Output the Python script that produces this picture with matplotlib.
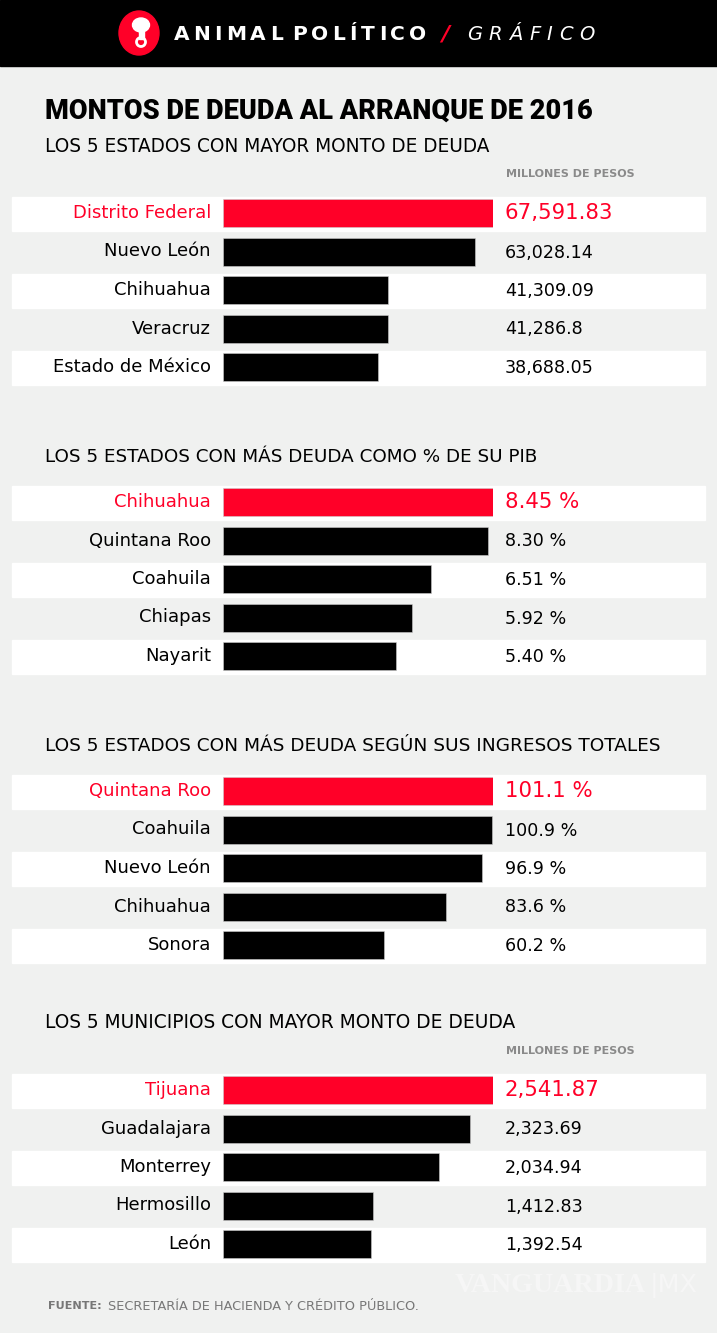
import matplotlib
matplotlib.use("Agg")
import matplotlib.pyplot as plt
from matplotlib.patches import Rectangle, Circle, Ellipse

# data
title = "MONTOS DE DEUDA AL ARRANQUE DE 2016"

s1_title = "LOS 5 ESTADOS CON MAYOR MONTO DE DEUDA"
s1_names = ["Distrito Federal", "Nuevo León", "Chihuahua", "Veracruz", "Estado de México"]
s1_values = [67591.83, 63028.14, 41309.09, 41286.8, 38688.05]
s1_labels = ["67,591.83", "63,028.14", "41,309.09", "41,286.8", "38,688.05"]

s2_title = "LOS 5 ESTADOS CON MÁS DEUDA COMO % DE SU PIB"
s2_names = ["Chihuahua", "Quintana Roo", "Coahuila", "Chiapas", "Nayarit"]
s2_values = [8.45, 8.30, 6.51, 5.92, 5.40]
s2_labels = ["8.45 %", "8.30 %", "6.51 %", "5.92 %", "5.40 %"]

s3_title = "LOS 5 ESTADOS CON MÁS DEUDA SEGÚN SUS INGRESOS TOTALES"
s3_names = ["Quintana Roo", "Coahuila", "Nuevo León", "Chihuahua", "Sonora"]
s3_values = [101.1, 100.9, 96.9, 83.6, 60.2]
s3_labels = ["101.1 %", "100.9 %", "96.9 %", "83.6 %", "60.2 %"]

s4_title = "LOS 5 MUNICIPIOS CON MAYOR MONTO DE DEUDA"
s4_names = ["Tijuana", "Guadalajara", "Monterrey", "Hermosillo", "León"]
s4_values = [2541.87, 2323.69, 2034.94, 1412.83, 1392.54]
s4_labels = ["2,541.87", "2,323.69", "2,034.94", "1,412.83", "1,392.54"]

RED = "#ff0028"
BG = "#f0f1f0"
GREY = "#8a8a8a"
FONT = ["DejaVu Sans"]

W, H = 717, 1333
fig = plt.figure(figsize=(W / 100, H / 100), dpi=100)
fig.patch.set_facecolor(BG)
bg = fig.add_axes([0, 0, 1, 1])
bg.set_xlim(0, W)
bg.set_ylim(H, 0)
bg.axis("off")

renderer = fig.canvas.get_renderer()


def fitted(x, y, s, width, **kw):
    # draw text, then rescale its size so it spans the given pixel width
    t = bg.text(x, y, s, ha="left", va="center", **kw)
    w = t.get_window_extent(renderer).width
    t.set_fontsize(t.get_fontsize() * width / w)
    return t


def tracked(x, y, s, width, **kw):
    # draw text letter by letter, spread out to fill the given width
    texts, widths = [], []
    for ch in s:
        if ch == " ":
            texts.append(None)
            widths.append(0)
            continue
        t = bg.text(x, y, ch, ha="left", va="center", **kw)
        texts.append(t)
        widths.append(t.get_window_extent(renderer).width)
    gaps = (len(s) - 1) + 1.5 * s.count(" ")
    sp = (width - sum(widths)) / gaps
    for t, w in zip(texts, widths):
        if t is None:
            x += sp * 1.5
            continue
        t.set_x(x)
        x += w + sp
    return x


# header band
bg.add_patch(Rectangle((0, 0), W, 66, color="black", zorder=1))
bg.add_patch(Ellipse((139, 33), 40, 44, color=RED, zorder=2))
bg.add_patch(Ellipse((141, 25), 17, 14, color="white", zorder=3))
bg.add_patch(Rectangle((139, 25), 5, 14, color="white", zorder=3))
bg.add_patch(Circle((141, 42), 4.5, fill=False, ec="white", lw=2, zorder=3))
tracked(174, 34, "ANIMAL POLÍTICO", 256, color="white", fontsize=14.5,
        fontweight="bold", family=FONT, zorder=4)
bg.text(441, 34, "/", color=RED, fontsize=16, fontweight="bold", style="italic",
        ha="left", va="center", family=FONT, zorder=4)
tracked(467, 34, "GRÁFICO", 128, color="white", fontsize=14,
        style="italic", family=FONT, zorder=4)

# titles
fitted(45, 111, title, 548, fontsize=16, fontweight="black",
       family=["Roboto", "DejaVu Sans"], color="black")

sections = [
    (s1_title, 443, s1_names, s1_values, s1_labels, 146, 213, True),
    (s2_title, 491, s2_names, s2_values, s2_labels, 457, 502, False),
    (s3_title, 612, s3_names, s3_values, s3_labels, 746, 791, False),
    (s4_title, 468, s4_names, s4_values, s4_labels, 1023, 1090, True),
]
step = 38.5
bar_left, bar_right = 223, 493

for head, hw, names, values, labels, ty, y0, pesos in sections:
    fitted(45, ty, head, hw, fontsize=12, family=FONT, color="black")
    if pesos:
        fitted(506, ty + 28, "MILLONES DE PESOS", 130, fontsize=7, fontweight="bold",
               family=FONT, color=GREY)
    for i in range(5):
        yc = y0 + i * step
        if i % 2 == 0:
            bg.add_patch(Rectangle((12, yc - 16.5), 693, 34, color="white", zorder=0.5))
        col = RED if i == 0 else "black"
        bg.text(211, yc, names[i], fontsize=13, family=FONT, ha="right",
                va="center", color=col)
        bg.text(505, yc + (0 if i == 0 else 1), labels[i],
                fontsize=15.3 if i == 0 else 12.6, family=FONT, ha="left",
                va="center", color=col)

    # bar axes for this section
    top = y0 - step / 2
    bottom = y0 + 4 * step + step / 2
    ax = fig.add_axes([bar_left / W, 1 - bottom / H, (bar_right - bar_left) / W,
                       (bottom - top) / H])
    ax.set_facecolor("none")
    ax.barh(range(5), values, height=28 / step, left=0,
            color=[RED] + ["black"] * 4, edgecolor="#cccccc", linewidth=0.4)
    ax.set_xlim(0, max(values))
    ax.set_ylim(4.5, -0.5)
    ax.axis("off")

# footer
fitted(48, 1306, "FUENTE:", 54, fontsize=7.5, fontweight="bold", family=FONT,
       color="#777777")
fitted(108, 1306, "SECRETARÍA DE HACIENDA Y CRÉDITO PÚBLICO.", 310, fontsize=7.5,
       family=FONT, color="#777777")
fitted(455, 1286, "VANGUARDIA", 192, fontsize=15, fontweight="bold",
       family=["Liberation Serif", "DejaVu Serif"], color="#f6f6f6")
fitted(650, 1286, "|MX", 48, fontsize=14, family=FONT, color="#f6f6f6")

fig.savefig("out.png", dpi=100, facecolor=BG)
